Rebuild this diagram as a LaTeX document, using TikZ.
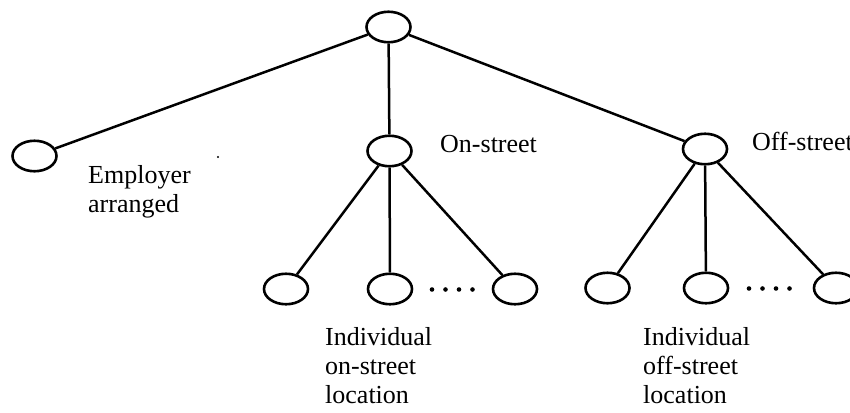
\documentclass[tikz,border=0pt]{standalone}
\usepackage{fontspec}
\setmainfont{Liberation Serif}
\usetikzlibrary{shapes.geometric}
\begin{document}
\begin{tikzpicture}[x=1pt,y=-1pt,
  vertex/.style={draw, ellipse, line width=2.6pt, minimum width=44pt, minimum height=30.5pt, inner sep=0pt},
  branch/.style={line width=2.5pt},
  label/.style={anchor=base west, inner sep=0pt, font=\fontsize{26}{30}\selectfont},
  dotmark/.style={fill=black}]
  \useasboundingbox (0,0) rectangle (850,412);
  \clip (0,0) rectangle (850,412);

  % tree nodes
  \node[vertex] (root) at (388.5,27) {};
  \node[vertex] (emp)  at (34.5,156) {};
  \node[vertex] (on)   at (389.5,151) {};
  \node[vertex] (off)  at (705,149) {};
  \node[vertex] (a1) at (286,289) {};
  \node[vertex] (a2) at (390,289) {};
  \node[vertex] (a3) at (515,289) {};
  \node[vertex] (b1) at (607.5,288) {};
  \node[vertex] (b2) at (706,288) {};
  \node[vertex] (b3) at (836,288) {};

  % branches
  \draw[branch] (root) -- (emp);
  \draw[branch] (root) -- (on);
  \draw[branch] (root) -- (off);
  \draw[branch] (on) -- (a1);
  \draw[branch] (on) -- (a2);
  \draw[branch] (on) -- (a3);
  \draw[branch] (off) -- (b1);
  \draw[branch] (off) -- (b2);
  \draw[branch] (off) -- (b3);

  % ellipsis dots between the last two children
  \foreach \x in {432,445.5,459,472.5} \fill[dotmark] (\x,289.5) circle (2.3pt);
  \foreach \x in {749,762.5,776,789.5} \fill[dotmark] (\x,288.5) circle (2.3pt);
  \fill[dotmark] (218,157) circle (1.2pt);

  % labels
  \node[label] (emp1) at (88,183) {Employer};
  \node[label] (emp2) at (88,212) {arranged};
  \node[label] (onl)  at (440,152) {On-street};
  \node[label] (offl) at (752,150) {Off-street};
  \node[label] (ia1) at (325,345) {Individual};
  \node[label] (ia2) at (325,374) {on-street};
  \node[label] (ia3) at (325,403) {location};
  \node[label] (ib1) at (643,345) {Individual};
  \node[label] (ib2) at (643,374) {off-street};
  \node[label] (ib3) at (643,403) {location};
\end{tikzpicture}
\end{document}
